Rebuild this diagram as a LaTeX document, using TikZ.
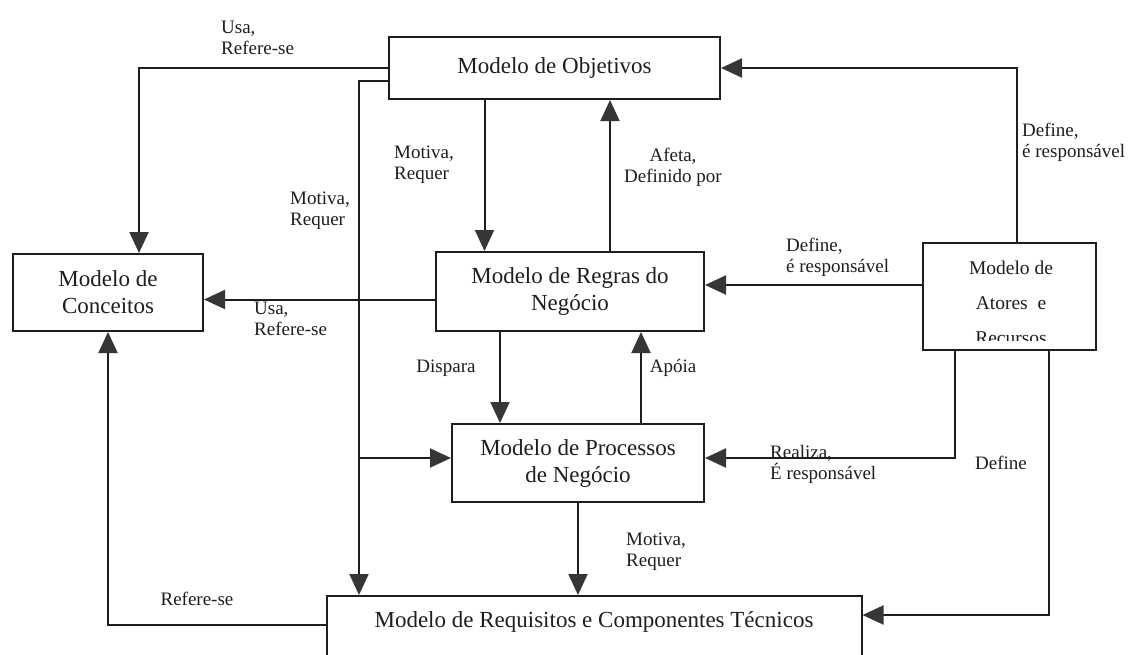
\documentclass[tikz,border=0pt]{standalone}
\usepackage{fontspec}
\setmainfont{Liberation Serif}
\usetikzlibrary{arrows.meta}
\definecolor{ink}{HTML}{1E1E1E}
\definecolor{tipgray}{HTML}{363636}
\begin{document}
\begin{tikzpicture}[x=1pt,y=-1pt,
  box/.style={draw=ink,line width=2pt,fill=white,inner sep=0pt,align=center,
    text=ink,font=\fontsize{23}{27}\selectfont},
  boxtext/.style={inner sep=0pt,align=center,text=ink,font=\fontsize{23}{27}\selectfont},
  conn/.style={draw=ink,line width=2pt,
    -{Triangle[length=21pt,width=19pt,color=tipgray,fill=tipgray]}},
  lbl/.style={inner sep=0pt,align=left,text=ink,font=\fontsize{19}{21}\selectfont},
  lblc/.style={lbl,align=center}]
\useasboundingbox (0,0) rectangle (1128,654);
\clip (0,0) rectangle (1128,654);
\fill[white] (0,0) rectangle (1128,654);

% models
\node[box,minimum width=331pt,minimum height=62pt] (obj) at (554.5,68) {Modelo de Objetivos};
\node[box,minimum width=190pt,minimum height=77pt] (conc) at (108,292.5) {Modelo de\\Conceitos};
\node[box,minimum width=268pt,minimum height=79pt] (reg) at (570,291.5) {Modelo de Regras do\\Negócio};
\node[box,minimum width=173pt,minimum height=107pt] (ator) at (1009.5,296.5) {};
\begin{scope}
  \clip (ator.north west) rectangle ([yshift=11pt]ator.south east);
  \node[boxtext,font=\fontsize{19.5}{35}\selectfont] (atortext) at (1011,302.5) {Modelo de\\Atores\ \ e\\Recursos};
\end{scope}
\node[box,minimum width=252pt,minimum height=78pt] (proc) at (578,463) {Modelo de Processos\\de Negócio};
\node[box,minimum width=535pt,minimum height=80pt,anchor=north] (req) at (594,595) {};
\node[boxtext] (reqtext) at (594,621.5) {Modelo de Requisitos e Componentes Técnicos};

\coordinate (trunk) at (359,0);
\coordinate (procin) at ([yshift=5pt]proc.west);

% relations
\draw[conn] (obj.west) -| ([xshift=31pt]conc.north);
\draw[conn] ([yshift=-13pt]obj.west) -| (trunk |- req.north);
\draw[conn] (trunk |- procin) -- (procin);
\draw[conn] ([xshift=-70pt]obj.south) -- ([xshift=-70pt]obj.south |- reg.north);
\draw[conn] ([xshift=40pt]reg.north) -- ([xshift=40pt]reg.north |- obj.south);
\draw[conn] ([yshift=-8pt]reg.west) -- ([yshift=-8pt]reg.west -| conc.east);
\draw[conn] ([xshift=7.5pt]ator.north) |- (obj.east);
\draw[conn] ([yshift=11.5pt]ator.west) -- ([yshift=11.5pt]ator.west -| reg.east);
\draw[conn] ([xshift=-70pt]reg.south) -- ([xshift=-70pt]reg.south |- proc.north);
\draw[conn] ([xshift=63pt]proc.north) -- ([xshift=63pt]proc.north |- reg.south);
\draw[conn] ([xshift=-54.5pt]ator.south) |- ([yshift=5pt]proc.east);
\draw[conn] ([xshift=39.5pt]ator.south) |- ([yshift=-20pt]req.north east);
\draw[conn] (proc.south) -- (proc.south |- req.north);
\draw[conn] ([yshift=-30pt]req.north west) -| (conc.south);

% relation labels
\node[lbl,anchor=west] (l1) at (221,38) {Usa,\\Refere-se};
\node[lbl,anchor=west] (l2) at (290,211) {Motiva,\\Requer};
\node[lbl,anchor=west] (l3) at (394,165) {Motiva,\\Requer};
\node[lblc] (l4) at (673,167) {Afeta,\\Definido por};
\node[lbl,anchor=west] (l5) at (1022,142) {Define,\\é responsável};
\node[lbl,anchor=west] (l6) at (786,257) {Define,\\é responsável};
\node[lbl,anchor=west] (l7) at (254,319) {Usa,\\Refere-se};
\node[lbl] (l8) at (446,368) {Dispara};
\node[lbl] (l9) at (673,368) {Apóia};
\node[lbl,anchor=west] (l10) at (770,464) {Realiza,\\É responsável};
\node[lbl] (l11) at (1001,463) {Define};
\node[lbl,anchor=west] (l12) at (626,552) {Motiva,\\Requer};
\node[lbl] (l13) at (197,599) {Refere-se};
\end{tikzpicture}
\end{document}
